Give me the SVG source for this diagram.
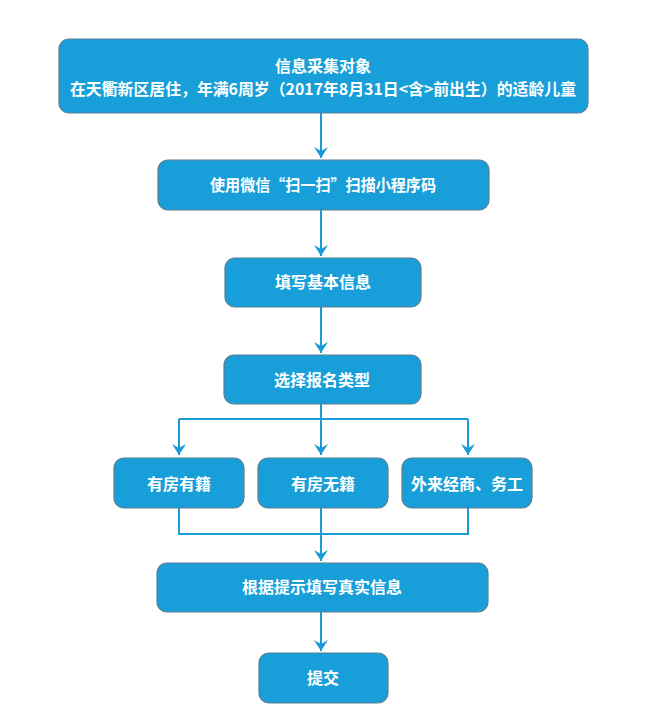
<svg xmlns="http://www.w3.org/2000/svg" width="668" height="717" viewBox="0 0 668 717">
<defs>
<style>
.box{fill:#189fd9;stroke:#5b7f94;stroke-width:1.2}
.t{font-family:"Microsoft YaHei","Noto Sans CJK SC",sans-serif;font-weight:bold;font-size:16px;fill:#ffffff;text-anchor:middle;dominant-baseline:central}
.c{fill:none;stroke:#1a9ad6;stroke-width:2}
</style>
<marker id="dn" viewBox="0 0 14 11" refX="7" refY="11" markerWidth="14" markerHeight="11" markerUnits="userSpaceOnUse">
<path d="M0,0 L7,4 L14,0 L7,11 Z" fill="#1a9ad6"/>
</marker>
</defs>
<rect width="668" height="717" fill="#ffffff"/>
<g id="connectors">
<path class="c" d="M321,113 V158" marker-end="url(#dn)"/>
<path class="c" d="M321,210 V256" marker-end="url(#dn)"/>
<path class="c" d="M321,307 V353" marker-end="url(#dn)"/>
<path class="c" d="M321,404 V455" marker-end="url(#dn)"/>
<path class="c" d="M179,419 H468"/>
<path class="c" d="M179,419 V455" marker-end="url(#dn)"/>
<path class="c" d="M468,419 V455" marker-end="url(#dn)"/>
<path class="c" d="M179,508 V534 H468 V508"/>
<path class="c" d="M321,508 V534"/>
<path class="c" d="M321,534 V561" marker-end="url(#dn)"/>
<path class="c" d="M321,612 V651" marker-end="url(#dn)"/>
</g>
<g id="n1"><rect class="box" x="59" y="39" width="529" height="74" rx="10"/>
<text class="t" x="323" y="65">信息采集对象</text>
<text class="t" x="323" y="88" textLength="506" lengthAdjust="spacingAndGlyphs">在天衢新区居住，年满6周岁（2017年8月31日&lt;含&gt;前出生）的适龄儿童</text></g>
<g id="n2"><rect class="box" x="158" y="160" width="331" height="50" rx="10"/>
<text class="t" x="323" y="184" textLength="226" lengthAdjust="spacingAndGlyphs">使用微信“扫一扫”扫描小程序码</text></g>
<g id="n3"><rect class="box" x="225" y="258" width="196" height="49" rx="10"/>
<text class="t" x="323" y="281">填写基本信息</text></g>
<g id="n4"><rect class="box" x="224" y="355" width="197" height="49" rx="10"/>
<text class="t" x="322" y="379">选择报名类型</text></g>
<g id="n5"><rect class="box" x="114" y="458" width="130" height="50" rx="10"/>
<text class="t" x="179" y="483">有房有籍</text></g>
<g id="n6"><rect class="box" x="258" y="458" width="130" height="50" rx="10"/>
<text class="t" x="323" y="483">有房无籍</text></g>
<g id="n7"><rect class="box" x="402" y="458" width="130" height="50" rx="10"/>
<text class="t" x="467" y="483">外来经商、务工</text></g>
<g id="n8"><rect class="box" x="157" y="563" width="331" height="49" rx="10"/>
<text class="t" x="322" y="586">根据提示填写真实信息</text></g>
<g id="n9"><rect class="box" x="259" y="653" width="129" height="50" rx="10"/>
<text class="t" x="323" y="677">提交</text></g>
</svg>
